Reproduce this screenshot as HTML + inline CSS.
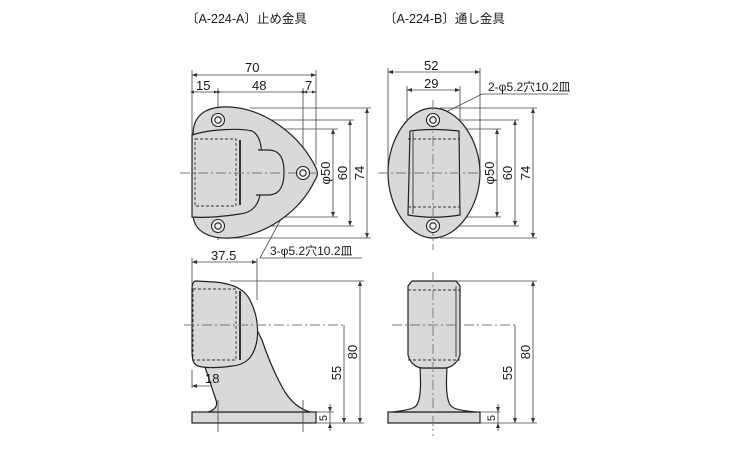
<!DOCTYPE html>
<html><head><meta charset="utf-8"><style>
html,body{margin:0;padding:0;background:#fff;}
svg{display:block}
text{font-family:"Liberation Sans","Noto Sans CJK JP",sans-serif;fill:#1a1a1a;}
</style></head><body>
<svg width="750" height="450" viewBox="0 0 750 450" xmlns="http://www.w3.org/2000/svg">
<defs>
<marker id="a" markerWidth="6" markerHeight="6" refX="5" refY="3" orient="auto-start-reverse" markerUnits="userSpaceOnUse"><path d="M0,1 L5,3 L0,5 Z" fill="#333"/></marker>
</defs>
<text x="186" y="23" font-size="12.5">〔A-224-A〕止め金具</text>
<text x="384" y="23" font-size="12.5">〔A-224-B〕通し金具</text>

<g stroke="#444" stroke-width="0.8" fill="none">
<line x1="192" y1="70" x2="192" y2="135"/>
<line x1="316" y1="70" x2="316" y2="165"/>
<line x1="218" y1="88" x2="218" y2="240"/>
<line x1="303" y1="88" x2="303" y2="165"/>
<line x1="192" y1="75" x2="316" y2="75" marker-start="url(#a)" marker-end="url(#a)"/>
<line x1="192" y1="92" x2="316" y2="92"/>
<line x1="226" y1="120" x2="354" y2="120"/>
<line x1="226" y1="226" x2="354" y2="226"/>
<line x1="240" y1="129" x2="338" y2="129"/>
<line x1="240" y1="217" x2="338" y2="217"/>
<line x1="250" y1="108" x2="371" y2="108"/>
<line x1="220" y1="238" x2="371" y2="238"/>
<line x1="333" y1="129" x2="333" y2="217" marker-start="url(#a)" marker-end="url(#a)"/>
<line x1="350" y1="120" x2="350" y2="226" marker-start="url(#a)" marker-end="url(#a)"/>
<line x1="367" y1="108" x2="367" y2="238" marker-start="url(#a)" marker-end="url(#a)"/>
<polyline points="301,182 260,258 362,258"/>
<line x1="192" y1="258" x2="192" y2="290"/>
<line x1="257" y1="258" x2="257" y2="300"/>
<line x1="192" y1="262" x2="257" y2="262" marker-start="url(#a)" marker-end="url(#a)"/>
<line x1="234" y1="360" x2="234" y2="388"/>
<line x1="192" y1="370" x2="192" y2="388"/>
<line x1="192" y1="386" x2="234" y2="386" marker-start="url(#a)" marker-end="url(#a)"/>
<line x1="230" y1="281" x2="364" y2="281"/>
<line x1="316" y1="423" x2="364" y2="423"/>
<line x1="316" y1="412" x2="334" y2="412"/>
<line x1="360" y1="281" x2="360" y2="423" marker-start="url(#a)" marker-end="url(#a)"/>
<line x1="344" y1="325" x2="344" y2="423" marker-end="url(#a)"/>
<line x1="330" y1="404" x2="330" y2="412" marker-end="url(#a)"/>
<line x1="330" y1="431" x2="330" y2="423" marker-end="url(#a)"/>
<line x1="330" y1="412" x2="330" y2="423"/>
<line x1="388" y1="68" x2="388" y2="170"/>
<line x1="480" y1="68" x2="480" y2="170"/>
<line x1="407" y1="86" x2="407" y2="135"/>
<line x1="460" y1="86" x2="460" y2="135"/>
<line x1="388" y1="72" x2="480" y2="72" marker-start="url(#a)" marker-end="url(#a)"/>
<line x1="407" y1="90" x2="460" y2="90" marker-start="url(#a)" marker-end="url(#a)"/>
<line x1="443" y1="120" x2="519" y2="120"/>
<line x1="443" y1="226" x2="519" y2="226"/>
<line x1="460" y1="129" x2="501" y2="129"/>
<line x1="460" y1="217" x2="501" y2="217"/>
<line x1="440" y1="108" x2="537" y2="108"/>
<line x1="440" y1="238" x2="537" y2="238"/>
<line x1="497" y1="129" x2="497" y2="217" marker-start="url(#a)" marker-end="url(#a)"/>
<line x1="515" y1="120" x2="515" y2="226" marker-start="url(#a)" marker-end="url(#a)"/>
<line x1="533" y1="108" x2="533" y2="238" marker-start="url(#a)" marker-end="url(#a)"/>
<polyline points="440,115 482,94 568,94"/>
<line x1="440" y1="281" x2="537" y2="281"/>
<line x1="480" y1="423" x2="537" y2="423"/>
<line x1="480" y1="412" x2="500" y2="412"/>
<line x1="533" y1="281" x2="533" y2="423" marker-start="url(#a)" marker-end="url(#a)"/>
<line x1="515" y1="325" x2="515" y2="423" marker-end="url(#a)"/>
<line x1="498" y1="404" x2="498" y2="412" marker-end="url(#a)"/>
<line x1="498" y1="431" x2="498" y2="423" marker-end="url(#a)"/>
<line x1="498" y1="412" x2="498" y2="423"/>
</g>
<g fill="#333">
<path d="M190,92 l4,-1.5 v3z M221,92 l-4,-1.5 v3z M218,92 l-4,-1.5 v3z M300,92 l4,-1.5 v3z M303,92 l4,-1.5 v3z M316,92 l-4,-1.5 v3z"/>
</g>

<g stroke="#222" stroke-width="1.2" fill="#d9d9d9">
<path d="M193,135 C193,112 210,106 230,107 C265,109 300,135 316,168 C318,172 318,176 315,180 C300,212 265,236 230,238 C210,239 194,232 193,215 Z"/>
<path d="M192,135 C210,129 240,128 252,131 C262,136 262,150 262,172 C262,198 258,212 240,214 C220,217 205,218 192,217 Z"/>
<path d="M258,150 L268,150 C281,150 284,160 284,172 C284,186 280,195 268,195 L256,195" />
</g>
<g stroke="#333" stroke-width="0.9" fill="none">
<rect x="195" y="139" width="41" height="67" stroke-dasharray="3,2"/>
<line x1="240" y1="140" x2="240" y2="205" stroke-width="2"/>
<line x1="180" y1="173" x2="318" y2="173" stroke-dasharray="10,3,2,3" stroke="#777"/>
</g>
<g stroke="#222" stroke-width="1.1" fill="#eee">
<circle cx="218" cy="120" r="6.5"/><circle cx="218" cy="120" r="3.2"/>
<circle cx="218" cy="226" r="6.5"/><circle cx="218" cy="226" r="3.2"/>
<circle cx="303" cy="173" r="6.5"/><circle cx="303" cy="173" r="3.2"/>
</g>

<g stroke="#222" stroke-width="1.2" fill="#d9d9d9">
<rect x="192" y="412" width="124" height="11"/>
<path d="M205,367 L216,400 C218,406 215,410 208,412 L310,412 C300,409 292,403 285,392 C275,375 267,355 262,340 L257,330 Z"/>
<path d="M196,281 L215,282 C235,284 245,290 250,300 C256,312 259,325 257,340 C254,358 245,365 232,366 C218,368 205,368 198,366 C193,364 192,360 192,350 L192,290 C192,284 193,281 196,281 Z"/>
</g>
<g stroke="#333" stroke-width="0.9" fill="none">
<rect x="193" y="289" width="43" height="71" stroke-dasharray="3,2"/>
<line x1="240" y1="291" x2="240" y2="360" stroke-width="2"/>
<line x1="184" y1="325" x2="345" y2="325" stroke-dasharray="10,3,2,3" stroke="#777"/>
<line x1="218" y1="400" x2="218" y2="432" stroke="#555"/>
<line x1="303" y1="400" x2="303" y2="432" stroke="#555"/>
</g>

<g stroke="#222" stroke-width="1.2" fill="#d9d9d9">
<path d="M433,108 C458,108 480,140 480,173 C480,206 458,238 433,238 C408,238 388,206 388,173 C388,140 408,108 433,108 Z"/>
<path d="M410,131 C425,129 442,129 459,131 L460,215 C442,218 425,218 408,215 Z"/>
</g>
<g stroke="#333" stroke-width="0.9" fill="none">
<line x1="408" y1="139" x2="460" y2="139" stroke-dasharray="3,2"/>
<line x1="408" y1="207" x2="460" y2="207" stroke-dasharray="3,2"/>
<line x1="413" y1="132" x2="413" y2="214"/>
<line x1="378" y1="173" x2="480" y2="173" stroke-dasharray="10,3,2,3" stroke="#777"/>
<line x1="433" y1="100" x2="433" y2="250" stroke-dasharray="10,3,2,3" stroke="#777"/>
</g>
<g stroke="#222" stroke-width="1.1" fill="#eee">
<circle cx="433" cy="120" r="6.5"/><circle cx="433" cy="120" r="3.2"/>
<circle cx="433" cy="226" r="6.5"/><circle cx="433" cy="226" r="3.2"/>
</g>

<g stroke="#222" stroke-width="1.2" fill="#d9d9d9">
<rect x="388" y="412" width="92" height="11"/>
<path d="M420,368 C421,385 421,400 416,406 C412,410 400,411 392,412 L476,412 C466,411 455,410 451,406 C446,400 446,385 447,368 Z"/>
<path d="M412,281 L456,281 L460,286 L460,355 C458,363 450,368 445,368 L423,368 C416,368 410,363 408,355 L408,286 Z"/>
</g>
<g stroke="#333" stroke-width="0.9" fill="none">
<line x1="408" y1="290" x2="460" y2="290" stroke-dasharray="3,2"/>
<line x1="408" y1="360" x2="460" y2="360" stroke-dasharray="3,2"/>
<line x1="456" y1="286" x2="456" y2="357"/>
<line x1="392" y1="325" x2="517" y2="325" stroke-dasharray="10,3,2,3" stroke="#777"/>
<line x1="433" y1="272" x2="433" y2="436" stroke-dasharray="10,3,2,3" stroke="#777"/>
</g>

<g font-size="13">
<text x="245" y="72">70</text>
<text x="196" y="90">15</text>
<text x="252" y="90">48</text>
<text x="305" y="90">7</text>
<text transform="translate(330,173) rotate(-90)" text-anchor="middle">φ50</text>
<text transform="translate(347,173) rotate(-90)" text-anchor="middle">60</text>
<text transform="translate(364,173) rotate(-90)" text-anchor="middle">74</text>
<text x="270" y="255" font-size="12">3-φ5.2穴10.2皿</text>
<text x="211" y="260">37.5</text>
<text x="205" y="383">18</text>
<text transform="translate(357,352) rotate(-90)" text-anchor="middle">80</text>
<text transform="translate(341,373) rotate(-90)" text-anchor="middle">55</text>
<text transform="translate(327,418) rotate(-90)" text-anchor="middle" font-size="11">5</text>
<text x="424" y="70">52</text>
<text x="424" y="88">29</text>
<text x="488" y="91" font-size="12">2-φ5.2穴10.2皿</text>
<text transform="translate(494,173) rotate(-90)" text-anchor="middle">φ50</text>
<text transform="translate(512,173) rotate(-90)" text-anchor="middle">60</text>
<text transform="translate(530,173) rotate(-90)" text-anchor="middle">74</text>
<text transform="translate(530,352) rotate(-90)" text-anchor="middle">80</text>
<text transform="translate(512,373) rotate(-90)" text-anchor="middle">55</text>
<text transform="translate(495,418) rotate(-90)" text-anchor="middle" font-size="11">5</text>
</g>
</svg>
</body></html>
